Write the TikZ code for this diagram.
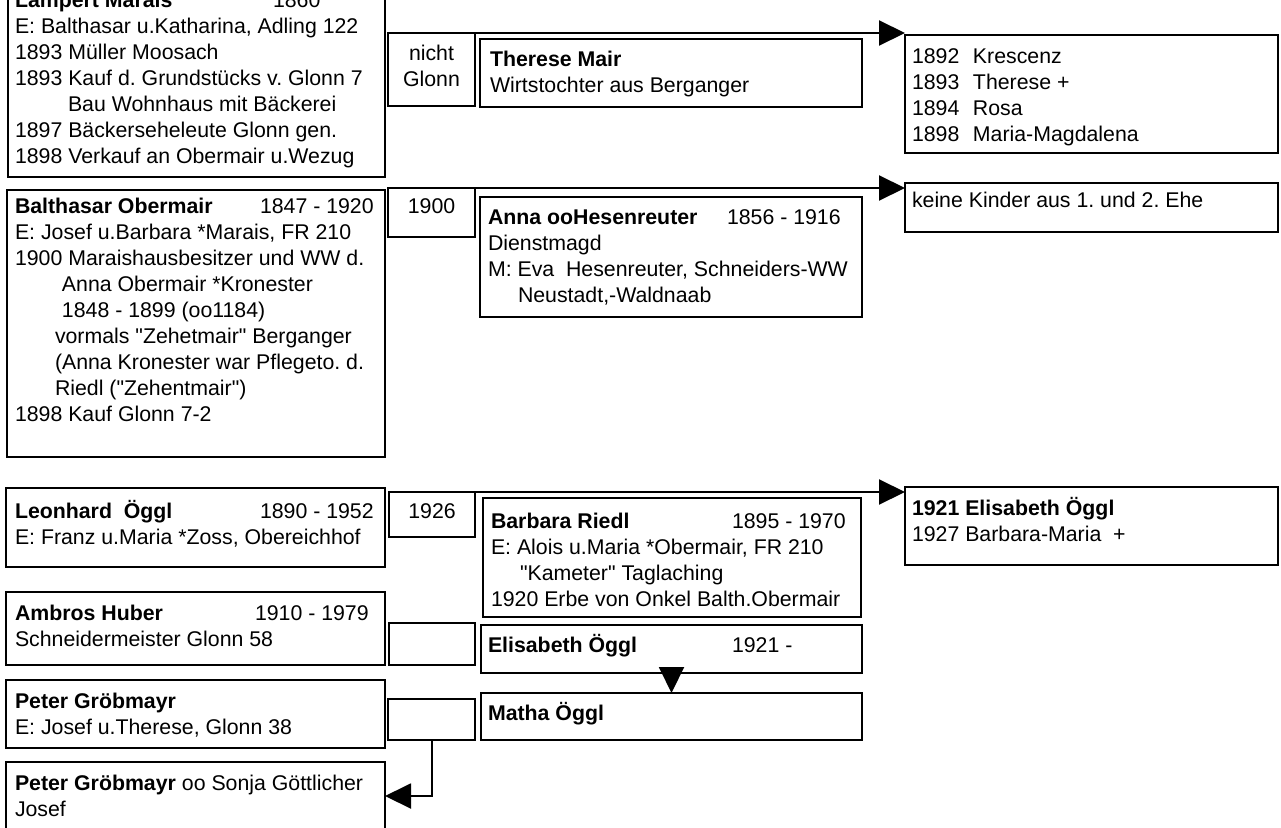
\documentclass[tikz,border=0pt]{standalone}
\usepackage{fontspec}
\setmainfont{Liberation Sans}[Ligatures=TeXOff]
\usetikzlibrary{arrows.meta}
\newcommand\nm[3]{\makebox[#1][l]{\textbf{#2}}#3}
\frenchspacing
\begin{document}
\begin{tikzpicture}[x=1pt,y=-1pt,
  box/.style={draw=black,line width=2.8pt,rectangle,inner sep=0pt,outer sep=0pt,fill=white},
  txt/.style={anchor=base west,inner sep=0pt,outer sep=0pt,font=\fontsize{21.3}{26}\selectfont\frenchspacing},
  ctxt/.style={anchor=base,inner sep=0pt,outer sep=0pt,font=\fontsize{21.3}{26}\selectfont\frenchspacing},
  conn/.style={draw=black,line width=2pt,-{Triangle[length=26pt,width=25pt]}}]
\newcommand\bx[5]{\node[box,anchor=north west,minimum width={#4pt-#2pt},minimum height={#5pt-#3pt}] (#1) at (#2,#3) {};}
\newcommand\tl[3]{\node[txt] (#1) at (#2) {\begin{tabular}[t]{@{}l@{}}#3\end{tabular}};}
\newcommand\tc[3]{\node[ctxt] (#1) at (#2) {\begin{tabular}[t]{@{}c@{}}#3\end{tabular}};}
\useasboundingbox (0,0) rectangle (1281,827);
\fill[white] (0,0) rectangle (1281,827);
\clip (0,0) rectangle (1281,827);
% boxes
\bx{lampert}{8}{-40}{385}{177}
\bx{nicht}{388}{33}{475}{106}
\bx{therese}{480}{39}{862}{107}
\bx{kidsa}{905}{35}{1278}{153}
\bx{balth}{7}{190}{385}{457}
\bx{ya}{388}{188}{475}{237}
\bx{anna}{480}{197}{862}{317}
\bx{keine}{905}{183}{1278}{232}
\bx{leon}{6}{488}{385}{567}
\bx{yb}{389}{492}{475}{537}
\bx{barbara}{483}{498}{861}{617}
\bx{kidsb}{905}{487}{1278}{565}
\bx{ambros}{6}{592}{385}{665}
\bx{ea}{389}{623}{475}{665}
\bx{elis}{481}{625}{862}{673}
\bx{matha}{481}{693}{862}{740}
\bx{eb}{388}{699}{475}{740}
\bx{peter}{6}{680}{385}{748}
\bx{last}{6}{762}{385}{830}
% texts
\tl{tlampert}{15,7}{\nm{258pt}{Lampert Marais}{1860}\\
E: Balthasar u.Katharina, Adling 122\\
1893 Müller Moosach\\
1893 Kauf d. Grundstücks v. Glonn 7\\
\hspace*{53pt}Bau Wohnhaus mit Bäckerei\\
1897 Bäckerseheleute Glonn gen.\\
1898 Verkauf an Obermair u.Wezug}
\tc{tnicht}{431.5,60}{nicht\\Glonn}
\tl{ttherese}{490,66}{\textbf{Therese Mair}\\Wirtstochter aus Berganger}
\tl{tkidsa}{912,63}{\makebox[61pt][l]{1892}Krescenz\\
\makebox[61pt][l]{1893}Therese +\\
\makebox[61pt][l]{1894}Rosa\\
\makebox[61pt][l]{1898}Maria-Magdalena}
\tl{tkeine}{912,207}{keine Kinder aus 1. und 2. Ehe}
\tc{tya}{431.5,213}{1900}
\tl{tanna}{488,224}{\nm{239pt}{Anna ooHesenreuter}{1856 - 1916}\\
Dienstmagd\\
M: Eva\ \ Hesenreuter, Schneiders-WW\\
\hspace*{30pt}Neustadt,-Waldnaab}
\tl{tbalth}{15,213}{\nm{245pt}{Balthasar Obermair}{1847 - 1920}\\
E: Josef u.Barbara *Marais, FR 210\\
1900 Maraishausbesitzer und WW d.\\
\hspace*{47pt}Anna Obermair *Kronester\\
\hspace*{47pt}1848 - 1899 (oo1184)\\
\hspace*{40pt}vormals "Zehetmair" Berganger\\
\hspace*{40pt}(Anna Kronester war Pflegeto. d.\\
\hspace*{40pt}Riedl ("Zehentmair")\\
1898 Kauf Glonn 7-2}
\tl{tleon}{15,518}{\nm{245pt}{Leonhard\ \ Öggl}{1890 - 1952}\\
E: Franz u.Maria *Zoss, Obereichhof}
\tc{tyb}{432,518}{1926}
\tl{tbarbara}{491,528}{\nm{241pt}{Barbara Riedl}{1895 - 1970}\\
E: Alois u.Maria *Obermair, FR 210\\
\hspace*{29pt}"Kameter" Taglaching\\
1920 Erbe von Onkel Balth.Obermair}
\tl{tkidsb}{912,515}{\textbf{1921 Elisabeth Öggl}\\
1927 Barbara-Maria\ \ +}
\tl{tambros}{15,620}{\nm{240pt}{Ambros Huber}{1910 - 1979}\\
Schneidermeister Glonn 58}
\tl{telis}{488,652}{\nm{244pt}{Elisabeth Öggl}{1921 -}}
\tl{tmatha}{488,720}{\textbf{Matha Öggl}}
\tl{tpeter}{15,708}{\textbf{Peter Gröbmayr}\\
E: Josef u.Therese, Glonn 38}
\tl{tlast}{15,790}{\textbf{Peter Gröbmayr} oo Sonja Göttlicher\\
Josef}
% connectors
\draw[conn] (nicht.north west) -- (nicht.north west -| kidsa.west);
\draw[conn] (ya.north west) -- (ya.north west -| keine.west);
\draw[conn] (yb.north west) -- (yb.north west -| kidsb.west);
\draw[conn] (elis.south) -- (matha.north);
\draw[conn] (eb.south) |- (last.east);
\end{tikzpicture}
\end{document}
